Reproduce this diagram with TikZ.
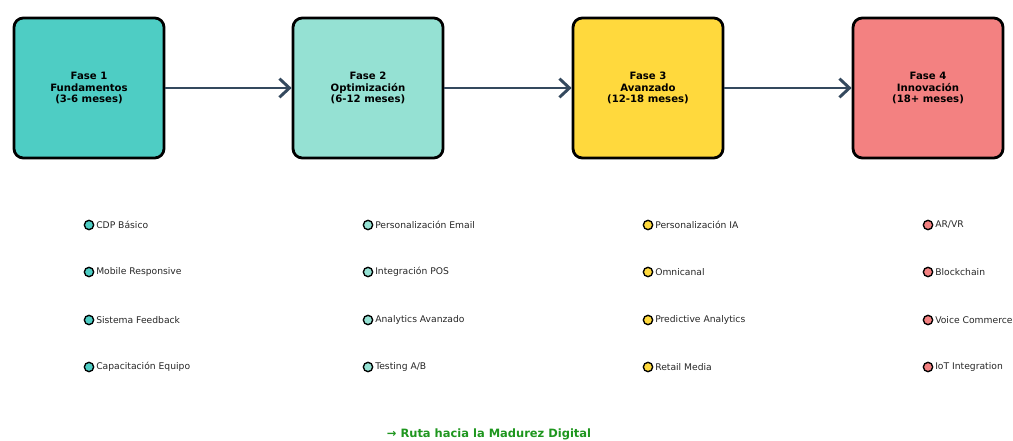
\documentclass[tikz,border=0pt]{standalone}
\usepackage{fontspec}
\setmainfont{DejaVu Sans}
\usetikzlibrary{arrows.meta}
\definecolor{faseuno}{HTML}{4ECDC4}
\definecolor{fasedos}{HTML}{95E1D3}
\definecolor{fasetres}{HTML}{FFD93D}
\definecolor{fasecuatro}{HTML}{F38181}
\definecolor{flechagris}{HTML}{34495E}
\definecolor{rutaverde}{HTML}{1E961E}

\begin{document}
\begin{tikzpicture}[x=0.75pt,y=-0.75pt,
    fase/.style={draw=black,line width=2.1pt,rounded corners=7pt,minimum width=112.5pt,minimum height=105pt,align=center,font=\bfseries\fontsize{7.6}{8.7}\selectfont},
    flecha/.style={draw=flechagris,line width=2.2pt,-{Straight Barb[length=7.5pt,width=14pt,line width=2.2pt]}},
    punto/.style={circle,draw=black,line width=1pt,inner sep=0pt,minimum size=7pt},
    tarea/.style={anchor=west,inner sep=0pt,text=black!85,font=\fontsize{6.9}{8}\selectfont}]
            \useasboundingbox (0, 0) rectangle (1013, 441);
            \node[fase, fill=faseuno] (f1) at (89, 88) {Fase 1\\Fundamentos\\(3-6 meses)};
            \node[fase, fill=fasedos] (f2) at (368, 88) {Fase 2\\Optimización\\(6-12 meses)};
            \node[fase, fill=fasetres] (f3) at (648, 88) {Fase 3\\Avanzado\\(12-18 meses)};
            \node[fase, fill=fasecuatro] (f4) at (928, 88) {Fase 4\\Innovación\\(18+ meses)};
            \draw[flecha] (f1.east) -- (f2.west);
            \draw[flecha] (f2.east) -- (f3.west);
            \draw[flecha] (f3.east) -- (f4.west);
            % fase 1
            \node[punto, fill=faseuno] (p11) at (89, 225) {};
            \node[tarea] (t11) at (96, 225) {CDP Básico};
            \node[punto, fill=faseuno] (p12) at (89, 272) {};
            \node[tarea] (t12) at (96, 272) {Mobile Responsive};
            \node[punto, fill=faseuno] (p13) at (89, 320) {};
            \node[tarea] (t13) at (96, 320) {Sistema Feedback};
            \node[punto, fill=faseuno] (p14) at (89, 367) {};
            \node[tarea] (t14) at (96, 367) {Capacitación Equipo};
            % fase 2
            \node[punto, fill=fasedos] (p21) at (368, 225) {};
            \node[tarea] (t21) at (375, 225) {Personalización Email};
            \node[punto, fill=fasedos] (p22) at (368, 272) {};
            \node[tarea] (t22) at (375, 272) {Integración POS};
            \node[punto, fill=fasedos] (p23) at (368, 320) {};
            \node[tarea] (t23) at (375, 320) {Analytics Avanzado};
            \node[punto, fill=fasedos] (p24) at (368, 367) {};
            \node[tarea] (t24) at (375, 367) {Testing A/B};
            % fase 3
            \node[punto, fill=fasetres] (p31) at (648, 225) {};
            \node[tarea] (t31) at (655, 225) {Personalización IA};
            \node[punto, fill=fasetres] (p32) at (648, 272) {};
            \node[tarea] (t32) at (655, 272) {Omnicanal};
            \node[punto, fill=fasetres] (p33) at (648, 320) {};
            \node[tarea] (t33) at (655, 320) {Predictive Analytics};
            \node[punto, fill=fasetres] (p34) at (648, 367) {};
            \node[tarea] (t34) at (655, 367) {Retail Media};
            % fase 4
            \node[punto, fill=fasecuatro] (p41) at (928, 225) {};
            \node[tarea] (t41) at (935, 225) {AR/VR};
            \node[punto, fill=fasecuatro] (p42) at (928, 272) {};
            \node[tarea] (t42) at (935, 272) {Blockchain};
            \node[punto, fill=fasecuatro] (p43) at (928, 320) {};
            \node[tarea] (t43) at (935, 320) {Voice Commerce};
            \node[punto, fill=fasecuatro] (p44) at (928, 367) {};
            \node[tarea] (t44) at (935, 367) {IoT Integration};
            \node[text=rutaverde, font=\bfseries\fontsize{8.6}{10}\selectfont] (ruta) at (489, 434) {→ Ruta hacia la Madurez Digital};
        \end{tikzpicture}
\end{document}
